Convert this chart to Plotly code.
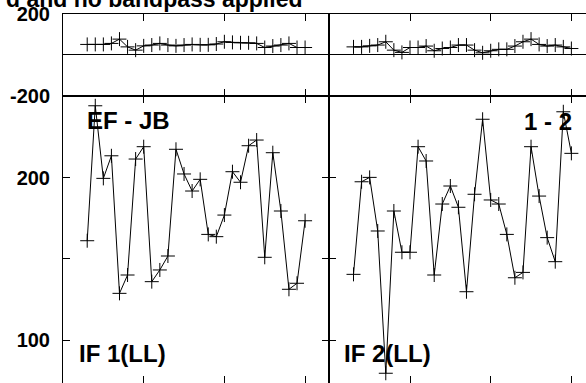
import plotly.graph_objects as go

# ---- data ----
chan = list(range(3, 31))

phase_if1 = [51, 51, 51, 56, 77, 39, 23, 44, 48, 56, 48, 44, 48, 51,
             49, 49, 53, 64, 61, 59, 59, 56, 36, 43, 48, 56, 36, 36]
phase_if2 = [39, 39, 44, 48, 64, 23, 12, 36, 36, 43, 20, 31, 36, 48,
             48, 23, 10, 20, 27, 27, 43, 64, 77, 51, 43, 48, 39, 31]

amp_if1 = [161.2, 244.3, 199.6, 213.5, 128.8, 140.1, 211.5, 219.1, 136.0, 143.2,
           151.8, 217.5, 202.3, 191.8, 199.0, 165.1, 163.7, 177.0, 203.7, 197.2,
           219.7, 223.2, 151.0, 215.4, 179.5, 131.3, 135.0, 173.5]
amp_if2 = [140.5, 197.5, 200.2, 167.2, 79.6, 179.5, 154.1, 154.1, 219.1, 210.3,
           140.1, 183.8, 194.9, 181.8, 129.8, 189.8, 236.0, 186.3, 183.8, 165.1,
           138.4, 141.7, 219.1, 188.7, 163.1, 148.3, 240.6, 215.0]

phase_ticks = [-200, 0, 200]
phase_ticktext = ["-200", "", "200"]
amp_ticks = [100, 150, 200]
amp_ticktext = ["100", "", "200"]
x_ticks = [10, 20, 30]

title_text = "d and no bandpass applied"
baseline_label = ["EF - JB", "1 - 2"]
if_labels = ["IF 1(LL)", "IF 2(LL)"]

# ---- layout geometry ----
W, H = 586, 383
L, T = 63, 14
PW = W - L
PH = H - T
xdiv = 329.3
dl = (xdiv - L) / PW
yb = (H - 95.7) / PH
px_per_unit = (xdiv - L) / 33.0
right_max = (W - xdiv) / px_per_unit


def px(xp):
    return (xp - L) / PW


def py(yp):
    return (H - yp) / PH


FONT = "Liberation Sans, Arial, sans-serif"
fig = go.Figure()

line_style = dict(color="black", width=1)
marker_style = dict(symbol="cross-thin", size=10, line=dict(color="black", width=1), color="black")

for xs, ys, xa, ya in [(chan, phase_if1, "x", "y"), (chan, phase_if2, "x2", "y2"),
                       (chan, amp_if1, "x3", "y3"), (chan, amp_if2, "x4", "y4")]:
    fig.add_trace(go.Scatter(x=xs, y=ys, xaxis=xa, yaxis=ya, mode="lines+markers",
                             line=line_style, marker=marker_style, showlegend=False,
                             hoverinfo="skip", cliponaxis=False))

ax_common = dict(showgrid=False, showline=True, linecolor="black", linewidth=1,
                 ticks="inside", ticklen=7, tickcolor="black", tickwidth=1,
                 automargin=False)

fig.update_layout(
    width=W, height=H,
    margin=dict(l=L, r=0, t=T, b=0, pad=0, autoexpand=False),
    paper_bgcolor="white", plot_bgcolor="white",
    font=dict(family=FONT, color="black", size=20, weight="bold"),
    xaxis=dict(domain=[0, dl], anchor="y", range=[0, 33], tickvals=x_ticks,
               showticklabels=False, mirror="ticks", zeroline=False, **ax_common),
    xaxis2=dict(domain=[dl, 1], anchor="y2", range=[0, right_max], tickvals=x_ticks,
                showticklabels=False, mirror="ticks", zeroline=False, **ax_common),
    xaxis3=dict(domain=[0, dl], anchor="y3", range=[0, 33], tickvals=x_ticks,
                showticklabels=False, mirror="ticks", zeroline=False, **ax_common),
    xaxis4=dict(domain=[dl, 1], anchor="y4", range=[0, right_max], tickvals=x_ticks,
                showticklabels=False, mirror="ticks", zeroline=False, **ax_common),
    yaxis=dict(domain=[yb, 1], anchor="x", range=[-200, 200], tickvals=phase_ticks,
               ticktext=phase_ticktext, mirror="ticks", zeroline=True,
               zerolinecolor="black", zerolinewidth=1, ticklabelstandoff=8,
               tickfont=dict(size=20, weight="bold"), **ax_common),
    yaxis2=dict(domain=[yb, 1], anchor="x2", range=[-200, 200], tickvals=phase_ticks,
                showticklabels=False, mirror=False, zeroline=True,
                zerolinecolor="black", zerolinewidth=1, **ax_common),
    yaxis3=dict(domain=[0, yb], anchor="x3", range=[73.6, 250.5], tickvals=amp_ticks,
                ticktext=amp_ticktext, mirror="ticks", zeroline=False, ticklabelstandoff=8,
                tickfont=dict(size=20, weight="bold"), **ax_common),
    yaxis4=dict(domain=[0, yb], anchor="x4", range=[73.6, 250.5], tickvals=amp_ticks,
                showticklabels=False, mirror=False, zeroline=False, **ax_common),
)

ann_font = dict(family=FONT, size=24, color="black", weight="bold")
annotations = [
    dict(text=title_text, x=px(303), y=py(-1), xanchor="right", yanchor="middle",
         font=dict(family=FONT, size=23, color="black", weight="bold")),
    dict(text=baseline_label[0], x=px(86), y=py(120), xanchor="left", yanchor="middle", font=ann_font),
    dict(text=baseline_label[1], x=px(573), y=py(121), xanchor="right", yanchor="middle", font=ann_font),
    dict(text=if_labels[0], x=px(78), y=py(353), xanchor="left", yanchor="middle", font=ann_font),
    dict(text=if_labels[1], x=px(343), y=py(353), xanchor="left", yanchor="middle", font=ann_font),
]
for a in annotations:
    a.update(xref="paper", yref="paper", showarrow=False, borderpad=0)
fig.update_layout(annotations=annotations)

post = (
    "var d=document.documentElement,b=document.body;"
    "d.style.cssText='margin:0;padding:0;overflow:hidden;';"
    "b.style.cssText='margin:0;padding:0;overflow:hidden;';"
)
fig.write_html("out.html", config={"displayModeBar": False}, post_script=post)
